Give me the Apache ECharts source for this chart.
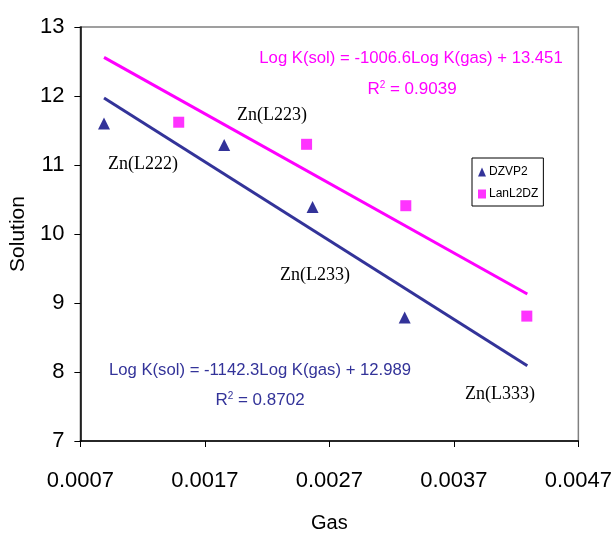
<!DOCTYPE html>
<html>
<head>
<meta charset="utf-8">
<script src="https://cdn.jsdelivr.net/npm/echarts@6/dist/echarts.min.js"></script>
<style>
  html, body { margin: 0; padding: 0; background: #fff; }
  #chart { width: 615px; height: 538px; }
</style>
</head>
<body>
<div id="chart"></div>
<script>
// Measured stability constants: gas-phase vs solution
const dzvp2Gas = [0.00089, 0.001855, 0.002565, 0.003305];
const dzvp2Sol = [11.60, 11.29, 10.39, 8.79];
const lanl2dzGas = [0.00149, 0.002517, 0.003314, 0.004286];
const lanl2dzSol = [11.62, 11.30, 10.41, 8.81];

// Linear trendline end points
const trendGas = [0.00089, 0.00429];
const dzvp2TrendSol = [11.97, 8.09];
const lanl2dzTrendSol = [12.56, 9.13];

const xTicks = ['0.0007', '0.0017', '0.0027', '0.0037', '0.0047'];
const yTicks = [7, 8, 9, 10, 11, 12, 13];

const pair = (xs, ys) => xs.map((x, i) => [x, ys[i]]);

const NAVY = '#000080';
const BLUE = '#333399';
const MAGENTA = '#FF00FF';
const SANS = '"Liberation Sans", Arial, sans-serif';
const SERIF = '"Liberation Serif", "Times New Roman", serif';

const chart = echarts.init(document.getElementById('chart'), null, { renderer: 'canvas' });

function label(text, x, y, color, size, font) {
  return {
    type: 'text', x: x, y: y, z: 10,
    style: {
      text: text, fill: color, fontSize: size, fontFamily: font,
      align: 'center', verticalAlign: 'middle'
    }
  };
}

function rSquared(value, x, y, color) {
  return {
    type: 'text', x: x, y: y, z: 10,
    style: {
      text: '{r|R}{s|2}{r| = ' + value + '}',
      align: 'center', verticalAlign: 'middle',
      rich: {
        r: { fill: color, fontSize: 17, fontFamily: SANS },
        s: { fill: color, fontSize: 10, fontFamily: SANS, verticalAlign: 'top', padding: [0, 0, 7, 0] }
      }
    }
  };
}

chart.setOption({
  animation: false,
  backgroundColor: '#fff',
  grid: {
    left: 78, top: 27, right: 35, bottom: 94,
    show: true, borderColor: '#808080', borderWidth: 1.5, backgroundColor: 'transparent'
  },
  xAxis: {
    type: 'value',
    min: 0.0007, max: 0.0047, interval: 0.001,
    name: 'Gas', nameLocation: 'middle', nameGap: 72,
    nameTextStyle: { fontSize: 20, fontFamily: SANS, color: '#000' },
    axisLine: { onZero: false, lineStyle: { color: '#000', width: 1.5 } },
    axisTick: { show: true, length: 6, inside: false, lineStyle: { color: '#000' } },
    axisLabel: {
      margin: 29, fontSize: 22, fontFamily: SANS, color: '#000',
      formatter: (v) => {
        const s = v.toFixed(4);
        return xTicks.indexOf(s) >= 0 ? s : '';
      }
    },
    splitLine: { show: false }
  },
  yAxis: {
    type: 'value',
    min: yTicks[0], max: yTicks[yTicks.length - 1], interval: 1,
    name: 'Solution', nameLocation: 'middle', nameGap: 44, nameRotate: 90,
    nameTextStyle: { fontSize: 21, fontFamily: SANS, color: '#000' },
    axisLine: { onZero: false, lineStyle: { color: '#000', width: 1.5 } },
    axisTick: { show: true, length: 6, inside: false, lineStyle: { color: '#000' } },
    axisLabel: { margin: 16, fontSize: 22, fontFamily: SANS, color: '#000' },
    splitLine: { show: false }
  },
  legend: {
    left: 472, top: 158, orient: 'vertical',
    backgroundColor: '#fff',
    borderColor: '#000', borderWidth: 1,
    padding: [8, 5, 6, 6],
    itemGap: 10, itemWidth: 8, itemHeight: 9,
    textStyle: { fontSize: 12, fontFamily: SANS, color: '#000', padding: [0, 0, 0, -2] },
    data: [
      { name: 'DZVP2', icon: 'triangle' },
      { name: 'LanL2DZ', icon: 'rect' }
    ]
  },
  series: [
    {
      name: 'DZVP2 trend', type: 'line', data: pair(trendGas, dzvp2TrendSol),
      showSymbol: false, symbol: 'none', lineStyle: { color: BLUE, width: 3 }, z: 2
    },
    {
      name: 'LanL2DZ trend', type: 'line', data: pair(trendGas, lanl2dzTrendSol),
      showSymbol: false, symbol: 'none', lineStyle: { color: MAGENTA, width: 3 }, z: 2
    },
    {
      name: 'DZVP2', type: 'scatter', data: pair(dzvp2Gas, dzvp2Sol),
      symbol: 'triangle', symbolSize: [12, 12], itemStyle: { color: NAVY }, z: 3
    },
    {
      name: 'LanL2DZ', type: 'scatter', data: pair(lanl2dzGas, lanl2dzSol),
      symbol: 'rect', symbolSize: [11, 11], itemStyle: { color: MAGENTA }, z: 3
    }
  ],
  graphic: [
    label('Log K(sol) = -1006.6Log K(gas) + 13.451', 411, 58, MAGENTA, 16.7, SANS),
    rSquared('0.9039', 412, 89, MAGENTA),
    label('Log K(sol) = -1142.3Log K(gas) + 12.989', 260, 370, BLUE, 16.7, SANS),
    rSquared('0.8702', 260, 400, BLUE),
    label('Zn(L222)', 143, 164, '#000', 18, SERIF),
    label('Zn(L223)', 272, 115, '#000', 18, SERIF),
    label('Zn(L233)', 315, 275, '#000', 18, SERIF),
    label('Zn(L333)', 500, 394, '#000', 18, SERIF)
  ]
});
</script>
</body>
</html>
